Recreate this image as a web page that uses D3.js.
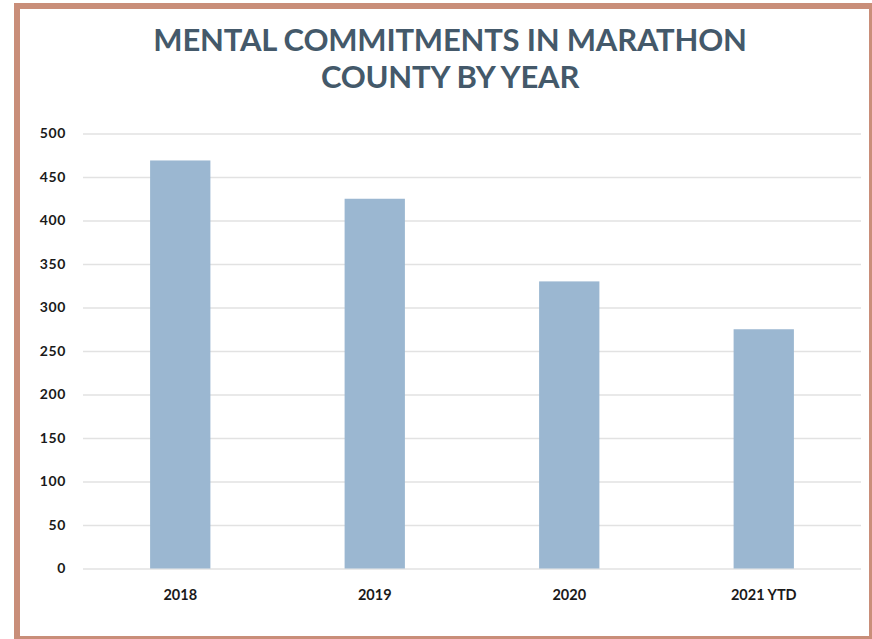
<!DOCTYPE html>
<html>
<head>
<meta charset="utf-8">
<script src="https://cdn.jsdelivr.net/npm/d3@7"></script>
<style>
  body { margin: 0; background: #fff; }
  svg { display: block; }
</style>
</head>
<body>
<div id="chart"></div>
<script>
const titleLines = ["MENTAL COMMITMENTS IN MARATHON", "COUNTY BY YEAR"];
const years = ["2018", "2019", "2020", "2021 YTD"];
const commitments = [469, 425, 330, 275];
const yTicks = [0, 50, 100, 150, 200, 250, 300, 350, 400, 450, 500];

const width = 872, height = 639;

const svg = d3.select("#chart")
    .append("svg")
    .attr("width", width)
    .attr("height", height);

// frame
svg.append("rect")
    .attr("x", 17)
    .attr("y", 6)
    .attr("width", 855)
    .attr("height", 633)
    .attr("fill", "#fff")
    .attr("stroke", "#c98e79")
    .attr("stroke-width", 6);

svg.selectAll("text.title")
    .data(titleLines)
    .enter()
    .append("text")
    .attr("class", "title")
    .attr("x", 450)
    .attr("y", (d, i) => 51 + i * 37)
    .attr("text-anchor", "middle")
    .attr("font-family", "Lato, sans-serif")
    .attr("font-weight", 700)
    .attr("font-size", 31)
    .attr("letter-spacing", -0.2)
    .attr("fill", "#44596a")
    .text(d => d);

const x = d3.scaleBand()
    .domain(years)
    .range([83, 861])
    .paddingInner(0.69)
    .paddingOuter(0.345);

const y = d3.scaleLinear()
    .domain([0, 500])
    .range([568.5, 133.5]);

const grid = svg.append("g")
    .attr("transform", "translate(83,0)")
    .call(d3.axisLeft(y).tickValues(yTicks).tickSize(0).tickFormat(d3.format("d")).tickPadding(17));

grid.select(".domain").remove();
grid.selectAll(".tick line")
    .attr("stroke", "#e2e2e2")
    .attr("stroke-width", 1.5)
    .attr("x2", 778);
grid.selectAll(".tick text")
    .attr("font-family", "Lato, sans-serif")
    .attr("font-weight", 700)
    .attr("font-size", 14)
    .attr("letter-spacing", 0.6)
    .attr("fill", "#1a1a1a");

svg.selectAll("rect.bar")
    .data(commitments)
    .enter()
    .append("rect")
    .attr("class", "bar")
    .attr("x", (d, i) => x(years[i]))
    .attr("y", d => y(d))
    .attr("width", x.bandwidth())
    .attr("height", d => y(0) - y(d))
    .attr("fill", "#9bb7d1");

const xAxis = svg.append("g")
    .attr("transform", "translate(0,568.5)")
    .call(d3.axisBottom(x).tickSize(0).tickPadding(21));

xAxis.select(".domain").remove();
xAxis.selectAll(".tick text")
    .attr("font-family", "Lato, sans-serif")
    .attr("font-weight", 700)
    .attr("font-size", 14.5)
    .attr("fill", "#1a1a1a");
</script>
</body>
</html>
